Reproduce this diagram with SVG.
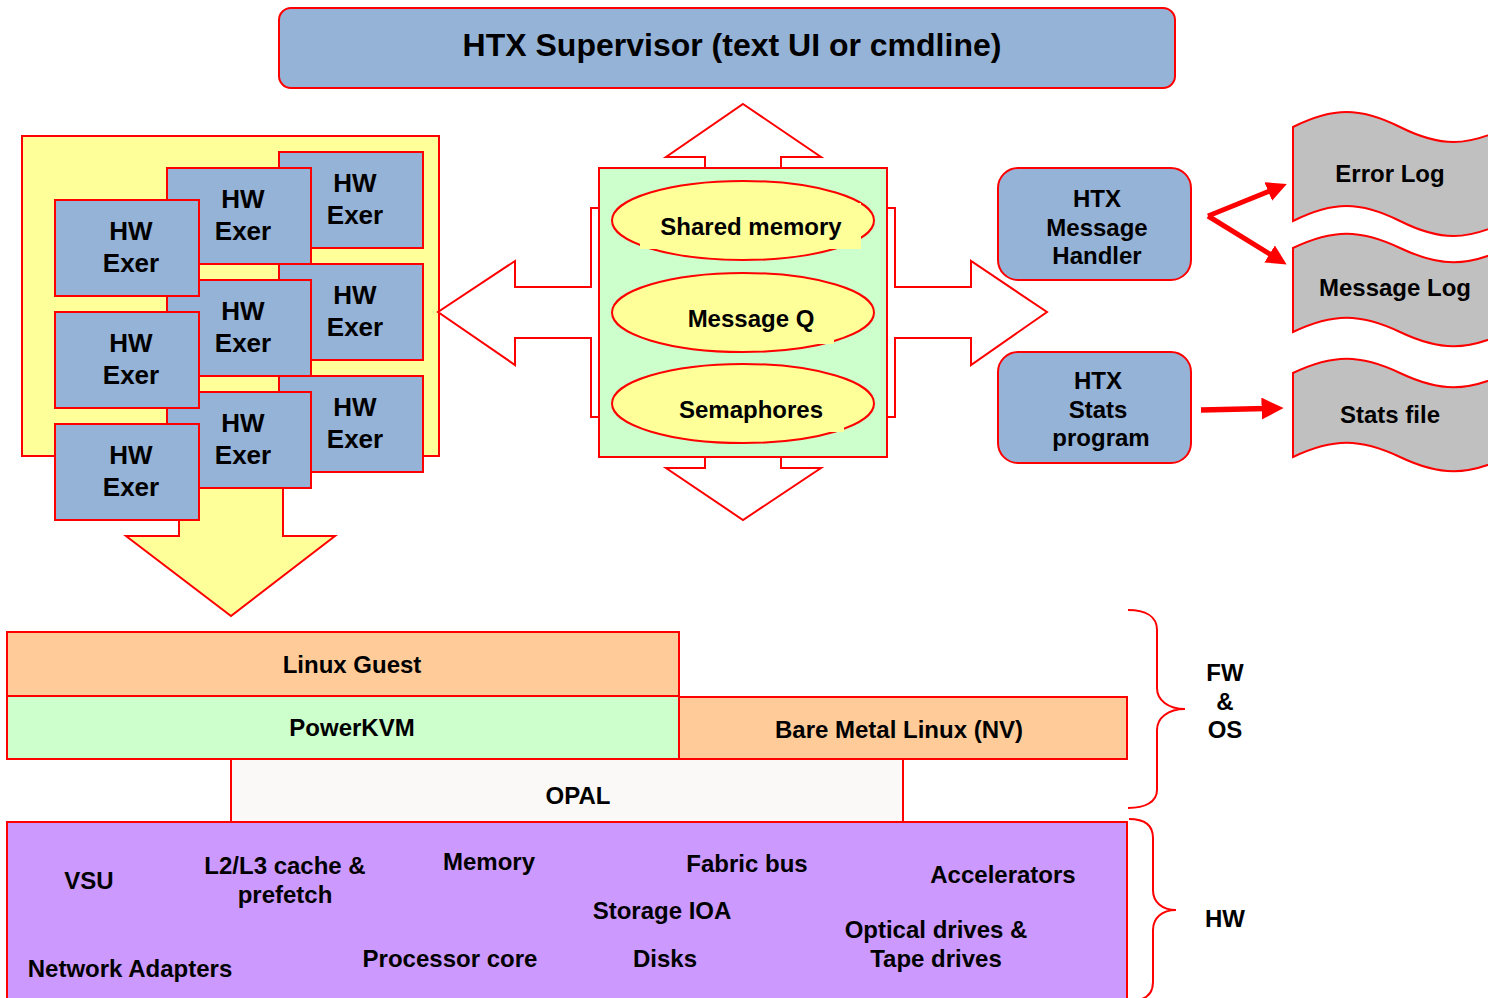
<svg xmlns="http://www.w3.org/2000/svg" width="1488" height="998" viewBox="0 0 1488 998">
<style>
text{font-family:"Liberation Sans",Arial,sans-serif;font-weight:bold;fill:#000;text-anchor:middle}
.t24{font-size:24px}
.t26{font-size:26px}
.blue{fill:#95B3D7;stroke:#FF0000;stroke-width:2}
.ln{stroke:#FF0000;stroke-width:2}
.tape{fill:#C0C0C0;stroke:#FF0000;stroke-width:2}
.ell{fill:#FFFF99;stroke:#FF0000;stroke-width:2}
</style>
<defs>
<marker id="ah" viewBox="0 0 10 10" refX="2" refY="5" markerWidth="4" markerHeight="4" orient="auto">
<path d="M0,0 L10,5 L0,10 z" fill="#FF0000"/>
</marker>
</defs>
<rect width="1488" height="998" fill="#FFFFFF"/>

<g id="supervisor">
<rect x="279" y="8" width="896" height="80" rx="12" class="blue"/>
<text x="732" y="56" style="font-size:32px">HTX Supervisor (text UI or cmdline)</text>
</g>

<g id="exer-group">
<polygon points="22,136 439,136 439,456 283,456 283,536 335,536 231,616 126,536 179,536 179,456 22,456" fill="#FFFF99" class="ln"/>
<g id="exer-r1"><rect x="279" y="152" width="144" height="96" class="blue"/><text class="t26" x="355" y="192">HW</text><text class="t26" x="355" y="224">Exer</text></g>
<g id="exer-r2"><rect x="279" y="264" width="144" height="96" class="blue"/><text class="t26" x="355" y="304">HW</text><text class="t26" x="355" y="336">Exer</text></g>
<g id="exer-r3"><rect x="279" y="376" width="144" height="96" class="blue"/><text class="t26" x="355" y="416">HW</text><text class="t26" x="355" y="448">Exer</text></g>
<g id="exer-m1"><rect x="167" y="168" width="144" height="96" class="blue"/><text class="t26" x="243" y="208">HW</text><text class="t26" x="243" y="240">Exer</text></g>
<g id="exer-m2"><rect x="167" y="280" width="144" height="96" class="blue"/><text class="t26" x="243" y="320">HW</text><text class="t26" x="243" y="352">Exer</text></g>
<g id="exer-m3"><rect x="167" y="392" width="144" height="96" class="blue"/><text class="t26" x="243" y="432">HW</text><text class="t26" x="243" y="464">Exer</text></g>
<g id="exer-l1"><rect x="55" y="200" width="144" height="96" class="blue"/><text class="t26" x="131" y="240">HW</text><text class="t26" x="131" y="272">Exer</text></g>
<g id="exer-l2"><rect x="55" y="312" width="144" height="96" class="blue"/><text class="t26" x="131" y="352">HW</text><text class="t26" x="131" y="384">Exer</text></g>
<g id="exer-l3"><rect x="55" y="424" width="144" height="96" class="blue"/><text class="t26" x="131" y="464">HW</text><text class="t26" x="131" y="496">Exer</text></g>
</g>

<g id="ipc">
<polygon points="743,104 821,157 781,157 781,208 895,208 895,287 971,287 971,261 1047,312 971,365 971,338 895,338 895,417 781,417 781,468 821,468 743,520 666,468 705,468 705,417 591,417 591,338 515,338 515,365 438,312 515,261 515,287 591,287 591,208 705,208 705,157 666,157" fill="#FFFFFF" class="ln"/>
<rect x="599" y="168" width="288" height="289" fill="#CCFFCC" class="ln"/>
<g id="shared-memory">
<ellipse cx="743" cy="220.5" rx="131" ry="39.5" class="ell"/>
<rect x="640" y="203" width="221" height="46" fill="#FFFF99"/>
<text class="t24" x="751" y="235">Shared memory</text>
</g>
<g id="message-q">
<ellipse cx="743" cy="312.5" rx="131" ry="39.5" class="ell"/>
<rect x="670" y="300" width="164" height="44" fill="#FFFF99"/>
<text class="t24" x="751" y="327">Message Q</text>
</g>
<g id="semaphores">
<ellipse cx="743" cy="403.5" rx="131" ry="39.5" class="ell"/>
<rect x="690" y="390" width="154" height="42" fill="#FFFF99"/>
<text class="t24" x="751" y="418">Semaphores</text>
</g>
</g>

<g id="msg-handler">
<rect x="998" y="168" width="193" height="112" rx="20" class="blue"/>
<text class="t24" x="1097" y="207">HTX</text>
<text class="t24" x="1097" y="236">Message</text>
<text class="t24" x="1097" y="264">Handler</text>
</g>
<g id="stats-program">
<rect x="998" y="352" width="193" height="111" rx="20" class="blue"/>
<text class="t24" x="1098" y="389">HTX</text>
<text class="t24" x="1098" y="418">Stats</text>
<text class="t24" x="1101" y="446">program</text>
</g>

<g id="error-log">
<path class="tape" d="M1293,127 C1333,107 1360,107 1400,127 C1440,147 1467,147 1507,127 L1507,221 C1467,241 1440,241 1400,221 C1360,201 1333,201 1293,221 Z"/>
<text class="t24" x="1390" y="182">Error Log</text>
</g>
<g id="message-log">
<path class="tape" d="M1293,248 C1333,229 1360,229 1400,248 C1440,267 1467,267 1507,248 L1507,332 C1467,351 1440,351 1400,332 C1360,313 1333,313 1293,332 Z"/>
<text class="t24" x="1395" y="296">Message Log</text>
</g>
<g id="stats-file">
<path class="tape" d="M1293,373 C1333,354 1360,354 1400,373 C1440,392 1467,392 1507,373 L1507,457 C1467,476 1440,476 1400,457 C1360,438 1333,438 1293,457 Z"/>
<text class="t24" x="1390" y="423">Stats file</text>
</g>

<g id="connectors" fill="none" stroke="#FF0000">
<line x1="1208" y1="216" x2="1272" y2="190" stroke-width="5" marker-end="url(#ah)"/>
<line x1="1208" y1="216" x2="1273" y2="256" stroke-width="5" marker-end="url(#ah)"/>
<line x1="1201" y1="410" x2="1266" y2="408.5" stroke-width="5.5" marker-end="url(#ah)"/>
</g>

<g id="opal">
<rect x="231" y="759" width="672" height="63" fill="#FAF9F7" class="ln"/>
<text class="t24" x="578" y="804">OPAL</text>
</g>
<g id="linux-guest">
<rect x="7" y="632" width="672" height="64" fill="#FFCC99" class="ln"/>
<text class="t24" x="352" y="673">Linux Guest</text>
</g>
<g id="powerkvm">
<rect x="7" y="696" width="672" height="63" fill="#CCFFCC" class="ln"/>
<text class="t24" x="352" y="736">PowerKVM</text>
</g>
<g id="bare-metal">
<rect x="679" y="697" width="448" height="62" fill="#FFCC99" class="ln"/>
<text class="t24" x="899" y="738">Bare Metal Linux (NV)</text>
</g>

<g id="hw">
<rect x="7" y="822" width="1120" height="190" fill="#CC99FF" class="ln"/>
<text class="t24" x="89" y="889">VSU</text>
<text class="t24" x="285" y="874">L2/L3 cache &amp;</text>
<text class="t24" x="285" y="903">prefetch</text>
<text class="t24" x="489" y="870">Memory</text>
<text class="t24" x="747" y="872">Fabric bus</text>
<text class="t24" x="1003" y="883">Accelerators</text>
<text class="t24" x="662" y="919">Storage IOA</text>
<text class="t24" x="936" y="938">Optical drives &amp;</text>
<text class="t24" x="936" y="967">Tape drives</text>
<text class="t24" x="450" y="967">Processor core</text>
<text class="t24" x="665" y="967">Disks</text>
<text class="t24" x="130" y="977">Network Adapters</text>
</g>

<g id="brace-fw" fill="none" stroke="#FF0000" stroke-width="2">
<path d="M1128,610 C1145,610 1157,616 1157,630 L1157,688 C1157,700 1168,709 1185,709 C1168,709 1157,718 1157,730 L1157,790 C1157,802 1145,808 1128,808"/>
</g>
<g id="label-fw">
<text class="t24" x="1225" y="681">FW</text>
<text class="t24" x="1225" y="710">&amp;</text>
<text class="t24" x="1225" y="738">OS</text>
</g>
<g id="brace-hw" fill="none" stroke="#FF0000" stroke-width="2">
<path d="M1129,819 C1144,819 1153,825 1153,838 L1153,890 C1153,902 1162,910 1176,910 C1162,910 1153,918 1153,930 L1153,982 C1153,995 1144,1001 1129,1001"/>
</g>
<g id="label-hw">
<text class="t24" x="1225" y="927">HW</text>
</g>
</svg>
